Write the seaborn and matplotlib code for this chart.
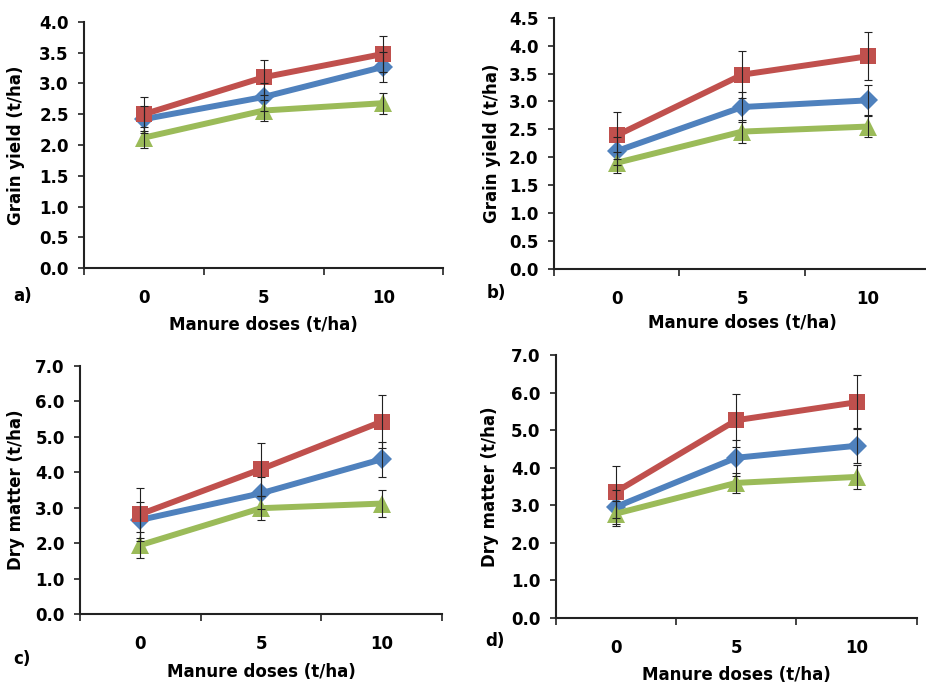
import numpy as np
import pandas as pd
import matplotlib
matplotlib.use("Agg")
import matplotlib.pyplot as plt
from matplotlib.ticker import FormatStrFormatter
import seaborn as sns

sns.set_style("white")
plt.rcParams["font.family"] = ["DejaVu Sans"]
plt.rcParams["font.weight"] = "bold"
plt.rcParams["text.color"] = "black"
plt.rcParams["axes.labelcolor"] = "black"
plt.rcParams["xtick.color"] = "black"
plt.rcParams["ytick.color"] = "black"

doses = ["0", "5", "10"]
series = ["blue", "red", "green"]

# panel a: grain yield
a_blue = [2.42, 2.78, 3.27]
a_red = [2.50, 3.10, 3.48]
a_green = [2.12, 2.56, 2.68]
a_blue_err = [0.22, 0.22, 0.24]
a_red_err = [0.28, 0.28, 0.29]
a_green_err = [0.17, 0.17, 0.17]

# panel b: grain yield
b_blue = [2.11, 2.90, 3.02]
b_red = [2.39, 3.48, 3.81]
b_green = [1.90, 2.46, 2.55]
b_blue_err = [0.25, 0.27, 0.27]
b_red_err = [0.42, 0.42, 0.43]
b_green_err = [0.19, 0.21, 0.19]

# panel c: dry matter
c_blue = [2.66, 3.41, 4.37]
c_red = [2.82, 4.09, 5.43]
c_green = [1.95, 2.99, 3.12]
c_blue_err = [0.50, 0.45, 0.49]
c_red_err = [0.75, 0.75, 0.74]
c_green_err = [0.37, 0.33, 0.37]

# panel d: dry matter
d_blue = [2.96, 4.27, 4.59]
d_red = [3.36, 5.27, 5.75]
d_green = [2.78, 3.60, 3.76]
d_blue_err = [0.45, 0.48, 0.47]
d_red_err = [0.70, 0.71, 0.72]
d_green_err = [0.33, 0.27, 0.33]

colors = {"blue": "#4F81BD", "red": "#C0504D", "green": "#9BBB59"}
markers = {"blue": "D", "red": "s", "green": "^"}
msizes = {"blue": 10, "red": 12, "green": 13}

panels = [
    dict(vals=[a_blue, a_red, a_green], errs=[a_blue_err, a_red_err, a_green_err],
         ylabel="Grain yield (t/ha)", ymax=4.0, ystep=0.5, tag="a)",
         rect=[0.0907, 0.608, 0.388, 0.360], ylab_x=-0.164, xlab_y=-0.195, tag_xy=(0.014, 0.567)),
    dict(vals=[b_blue, b_red, b_green], errs=[b_blue_err, b_red_err, b_green_err],
         ylabel="Grain yield (t/ha)", ymax=4.5, ystep=0.5, tag="b)",
         rect=[0.598, 0.607, 0.407, 0.367], ylab_x=-0.14, xlab_y=-0.18, tag_xy=(0.525, 0.572)),
    dict(vals=[c_blue, c_red, c_green], errs=[c_blue_err, c_red_err, c_green_err],
         ylabel="Dry matter (t/ha)", ymax=7.0, ystep=1.0, tag="c)",
         rect=[0.0864, 0.102, 0.391, 0.363], ylab_x=-0.152, xlab_y=-0.198, tag_xy=(0.014, 0.037)),
    dict(vals=[d_blue, d_red, d_green], errs=[d_blue_err, d_red_err, d_green_err],
         ylabel="Dry matter (t/ha)", ymax=7.0, ystep=1.0, tag="d)",
         rect=[0.600, 0.0965, 0.390, 0.384], ylab_x=-0.158, xlab_y=-0.183, tag_xy=(0.524, 0.063)),
]

fig = plt.figure(figsize=(9.26, 6.84), dpi=100)
pos = np.arange(len(doses))

for p in panels:
    ax = fig.add_axes(p["rect"])
    for name, vals, errs in zip(series, p["vals"], p["errs"]):
        df = pd.DataFrame({"dose": pos, "value": vals})
        sns.lineplot(data=df, x="dose", y="value", ax=ax, color=colors[name],
                     lw=4.3, marker=markers[name], markersize=msizes[name],
                     markeredgewidth=0, zorder=2)
        ax.errorbar(pos, vals, yerr=errs, fmt="none", ecolor="#222222",
                    elinewidth=0.8, capsize=3, capthick=0.8, zorder=3)
    ax.set_xlim(-0.5, len(doses) - 0.5)
    ax.set_ylim(0, p["ymax"])
    ax.set_yticks(np.arange(0, p["ymax"] + 0.01, p["ystep"]))
    ax.yaxis.set_major_formatter(FormatStrFormatter("%.1f"))
    ax.set_xticks(np.arange(-0.5, len(doses), 1.0))
    ax.set_xticklabels([])
    ax.set_xticks(pos, minor=True)
    ax.set_xticklabels(doses, minor=True)
    ax.tick_params(axis="x", which="major", direction="out", length=5, width=1.2,
                   color="#222222", bottom=True)
    ax.tick_params(axis="x", which="minor", length=0, pad=15, labelsize=12)
    ax.tick_params(axis="y", direction="out", length=4, width=1.2, color="#222222",
                   left=True, pad=7, labelsize=12)
    for s in ["top", "right"]:
        ax.spines[s].set_visible(False)
    for s in ["left", "bottom"]:
        ax.spines[s].set_color("#222222")
        ax.spines[s].set_linewidth(1.5)
    ax.set_ylabel(p["ylabel"], fontsize=12, fontweight="bold")
    ax.set_xlabel("Manure doses (t/ha)", fontsize=12, fontweight="bold")
    ax.yaxis.set_label_coords(p["ylab_x"], 0.5)
    ax.xaxis.set_label_coords(0.5, p["xlab_y"])
    fig.text(p["tag_xy"][0], p["tag_xy"][1], p["tag"], fontsize=12,
             fontweight="bold", va="center")

fig.savefig("out.png", dpi=100)
